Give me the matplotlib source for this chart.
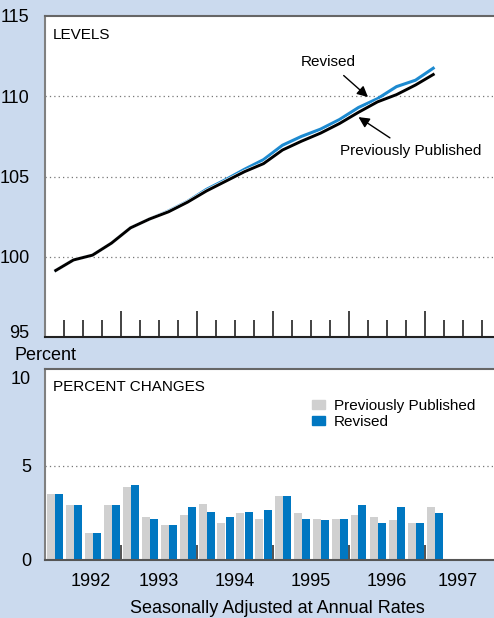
import numpy as np
import matplotlib.pyplot as plt
import matplotlib.patheffects as pe
import matplotlib.transforms as mtransforms
from matplotlib.patches import Patch

plt.rcParams['font.family'] = ['Liberation Sans', 'DejaVu Sans']

# quarterly data, 1992:I - 1997:I
quarters = np.arange(21)
levels_prev = [99.1, 99.8, 100.1, 100.85, 101.8, 102.35, 102.8, 103.4, 104.1, 104.7,
               105.3, 105.8, 106.65, 107.2, 107.7, 108.3, 109.0, 109.65, 110.1, 110.7, 111.4]
levels_rev = [99.1, 99.8, 100.1, 100.85, 101.8, 102.35, 102.85, 103.45, 104.2, 104.8,
              105.45, 106.05, 106.95, 107.5, 107.95, 108.55, 109.3, 109.85, 110.6, 111.0, 111.8]
pct_prev = [3.5, 2.9, 1.45, 2.9, 3.9, 2.3, 1.85, 2.4, 3.0, 1.95, 2.5,
            2.2, 3.4, 2.5, 2.2, 2.2, 2.4, 2.3, 2.1, 1.95, 2.8]
pct_rev = [3.5, 2.9, 1.45, 2.9, 4.0, 2.2, 1.85, 2.8, 2.55, 2.3, 2.55,
           2.65, 3.4, 2.2, 2.1, 2.2, 2.9, 1.95, 2.8, 1.95, 2.5]
years = ['1992', '1993', '1994', '1995', '1996', '1997']

bg = '#CBDAEE'
blue_line = '#1D8AD0'
blue_bar = '#0077C1'
gray_bar = '#D0D0D0'

fig = plt.figure(figsize=(4.94, 6.18), dpi=100, facecolor=bg)
ax1 = fig.add_axes([45 / 494, 1 - 337 / 618, 449 / 494, 321 / 618])
ax2 = fig.add_axes([45 / 494, 58 / 618, 449 / 494, 191 / 618])

xmin, xmax = -0.5, -0.5 + 449 / 19


def nudge(label, dy_px):
    label.set_transform(label.get_transform() +
                        mtransforms.ScaledTranslation(0, dy_px / 100, fig.dpi_scale_trans))


# ---- levels panel
ax1.plot(quarters, levels_rev, color=blue_line, lw=2.2, solid_capstyle='butt')
ax1.plot(quarters, levels_prev, color='black', lw=2.1, solid_capstyle='butt',
         path_effects=[pe.Stroke(linewidth=2.9, foreground='white'), pe.Normal()])
ax1.set_xlim(xmin, xmax)
ax1.set_ylim(95, 115)
ax1.set_yticks([95, 100, 105, 110, 115])
ax1.tick_params(axis='y', length=0, pad=11, labelsize=13)
for v in [100, 105, 110]:
    ax1.axhline(v, color='#777777', lw=0.9, ls=(0, (1, 2.5)), zorder=0)

# quarter ticks on the bottom axis, taller at year boundaries
bounds = np.arange(0.5, xmax, 1.0)
ax1.set_xticks(bounds)
ax1.set_xticklabels([])
ax1.tick_params(axis='x', direction='in', length=12, width=1.2, color='#222222')
for k, t in enumerate(ax1.xaxis.get_major_ticks()):
    if (k + 1) % 4 == 0:
        t.tick1line.set_markersize(19)

ax1.spines['right'].set_visible(False)
ax1.spines['left'].set_color('#808080')
ax1.spines['left'].set_linewidth(1.5)
ax1.spines['top'].set_color('#666666')
ax1.spines['top'].set_linewidth(1.5)
ax1.spines['bottom'].set_color('#222222')
ax1.spines['bottom'].set_linewidth(1.5)

ax1.text(0.018, 0.941, 'LEVELS', transform=ax1.transAxes, va='center', fontsize=11)
ax1.annotate('Revised', xy=(16.5, 109.95), xytext=(14.42, 112.13), ha='center', va='center',
             fontsize=11,
             arrowprops=dict(arrowstyle='-|>', color='black', lw=1, mutation_scale=16,
                             shrinkA=4, shrinkB=0))
ax1.annotate('Previously Published', xy=(16.0, 108.7), xytext=(18.74, 106.56), ha='center',
             va='center', fontsize=11,
             arrowprops=dict(arrowstyle='-|>', color='black', lw=1, mutation_scale=16,
                             shrinkA=5, shrinkB=0))

# ---- percent change panel
w = 8 / 19
ax2.bar(quarters - w / 2, pct_prev, width=w, color=gray_bar, label='Previously Published')
ax2.bar(quarters + w / 2, pct_rev, width=w, color=blue_bar, label='Revised')
ax2.set_xlim(xmin, xmax)
ax2.set_ylim(0, 10.15)
ax2.set_yticks([0, 5, 10])
ax2.tick_params(axis='y', length=0, pad=10, labelsize=13)
ax2.axhline(5, color='#777777', lw=0.9, ls=(0, (1, 2.5)), zorder=0)

year_pos = [1.9, 5.5, 9.5, 13.5, 17.5, 21.2]
ax2.set_xticks(year_pos)
ax2.set_xticklabels(years)
ax2.tick_params(axis='x', length=0, pad=9, labelsize=13)
ax2.set_xticks(np.arange(3.5, xmax, 4), minor=True)
ax2.tick_params(axis='x', which='minor', direction='in', length=11, width=1.2, color='#333333')

ax2.spines['right'].set_visible(False)
ax2.spines['left'].set_color('#808080')
ax2.spines['left'].set_linewidth(1.5)
ax2.spines['top'].set_color('#666666')
ax2.spines['top'].set_linewidth(1.5)
ax2.spines['bottom'].set_color('#555555')
ax2.spines['bottom'].set_linewidth(1.5)

# the end labels sit a little inside the panel in the reference
nudge(ax1.get_yticklabels()[0], 5)
nudge(ax2.get_yticklabels()[-1], -6)

ax2.text(0.018, 0.906, 'PERCENT CHANGES', transform=ax2.transAxes, va='center', fontsize=11)
handles = [Patch(color=gray_bar), Patch(color=blue_bar)]
ax2.legend(handles, ['Previously Published', 'Revised'], loc='upper left',
           bbox_to_anchor=(0.577, 0.885), frameon=False, fontsize=11, borderpad=0,
           handlelength=0.9, handleheight=0.55, handletextpad=0.55, labelspacing=0.15)

fig.text(14 / 494, 1 - 355 / 618, 'Percent', va='center', ha='left', fontsize=13)
fig.text(277 / 494, 5 / 618, 'Seasonally Adjusted at Annual Rates', ha='center',
         va='baseline', fontsize=13)

fig.savefig('out.png', dpi=100, facecolor=bg)
